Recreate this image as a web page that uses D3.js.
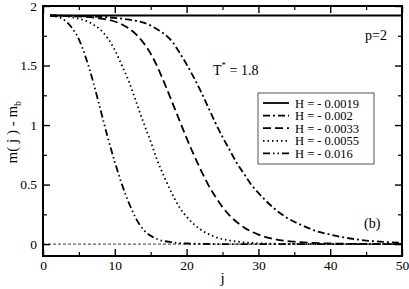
<!DOCTYPE html>
<html>
<head>
<meta charset="utf-8">
<script src="https://cdn.jsdelivr.net/npm/d3@7"></script>
<style>
body { margin: 0; background: #fff; }
svg text { font-family: "Liberation Serif", "Times New Roman", Times, serif; fill: #000; }
</style>
</head>
<body>
<div id="chart"></div>
<script>
const seriesLabels = ["H = - 0.0019", "H = - 0.002", "H = - 0.0033", "H = - 0.0055", "H = - 0.016"];
const dashes = [null, "7,3,2,3", "8,4", "1.5,3", "7,3,1.5,3,1.5,3"];

const jH0019 = [1, 5, 10, 20, 30, 40, 50];
const mH0019 = [1.92, 1.92, 1.92, 1.92, 1.92, 1.92, 1.92];

const jH002 = [1, 5, 10, 12, 14, 15, 16, 17, 18, 19, 20, 21, 22, 23, 24, 25, 26, 27, 28, 29, 30, 32, 34, 36, 38, 40, 42, 45, 48, 50];
const mH002 = [1.92, 1.915, 1.9, 1.885, 1.86, 1.835, 1.8, 1.76, 1.7, 1.61, 1.51, 1.4, 1.28, 1.15, 1.02, 0.9, 0.79, 0.68, 0.59, 0.5, 0.43, 0.31, 0.22, 0.16, 0.11, 0.08, 0.055, 0.03, 0.017, 0.01];

const jH0033 = [1, 4, 8, 10, 11, 12, 13, 14, 15, 16, 17, 18, 19, 20, 21, 22, 23, 24, 25, 26, 28, 30, 32, 35, 40, 45, 50];
const mH0033 = [1.92, 1.915, 1.895, 1.87, 1.845, 1.81, 1.76, 1.69, 1.6, 1.48, 1.34, 1.19, 1.04, 0.89, 0.75, 0.62, 0.5, 0.4, 0.31, 0.24, 0.14, 0.08, 0.045, 0.02, 0.005, 0.001, 0];

const jH0055 = [1, 2, 4, 6, 7, 8, 9, 10, 11, 12, 13, 14, 15, 16, 17, 18, 19, 20, 22, 24, 26, 28, 30, 35, 40, 50];
const mH0055 = [1.92, 1.92, 1.905, 1.875, 1.845, 1.8, 1.73, 1.63, 1.5, 1.36, 1.19, 1.02, 0.86, 0.69, 0.55, 0.42, 0.31, 0.23, 0.12, 0.06, 0.03, 0.015, 0.006, 0.001, 0, 0];

const jH016 = [1, 2, 3, 4, 5, 6, 7, 8, 9, 10, 11, 12, 13, 14, 15, 16, 18, 20, 25, 30, 40, 50];
const mH016 = [1.92, 1.91, 1.88, 1.82, 1.72, 1.56, 1.36, 1.13, 0.9, 0.69, 0.5, 0.34, 0.21, 0.12, 0.07, 0.04, 0.015, 0.005, 0, 0, 0, 0];

const xs = [jH0019, jH002, jH0033, jH0055, jH016];
const ys = [mH0019, mH002, mH0033, mH0055, mH016];

const xTicks = [0, 10, 20, 30, 40, 50];
const yTicks = [0, 0.5, 1, 1.5, 2];
const xMinor = [5, 15, 25, 35, 45];
const yMinor = [0.25, 0.75, 1.25, 1.75];

const width = 409, height = 289;
const margin = { left: 43, right: 7, top: 6, bottom: 33 };
const serif = "Liberation Serif, Times New Roman, serif";

const svg = d3.select("#chart").append("svg")
    .attr("width", width)
    .attr("height", height);

const x = d3.scaleLinear().domain([0, 50]).range([margin.left, width - margin.right]);
const y = d3.scaleLinear().domain([-0.1, 2]).range([height - margin.bottom, margin.top]);

// zero reference line
svg.append("line")
    .attr("x1", x(0)).attr("x2", x(50))
    .attr("y1", y(0)).attr("y2", y(0))
    .attr("stroke", "#000").attr("stroke-width", 0.8)
    .attr("stroke-dasharray", "3,2");

const line = d3.line().x(d => x(d[0])).y(d => y(d[1])).curve(d3.curveMonotoneX);

xs.forEach((xv, i) => {
    const pts = xv.map((v, k) => [v, ys[i][k]]);
    svg.append("path")
        .datum(pts)
        .attr("fill", "none")
        .attr("stroke", "#000")
        .attr("stroke-width", 1.8)
        .attr("stroke-dasharray", dashes[i])
        .attr("d", line);
});

// axes: ticks inward on all four sides
const major = 7, minor = 4;
const axB = d3.axisBottom(x).tickValues(xTicks).tickSize(-major).tickPadding(4).tickFormat(d3.format("d"));
const axT = d3.axisTop(x).tickValues(xTicks).tickSize(-major).tickFormat("");
const axL = d3.axisLeft(y).tickValues(yTicks).tickSize(-major).tickPadding(6).tickFormat(d => d);
const axR = d3.axisRight(y).tickValues(yTicks).tickSize(-major).tickFormat("");

function addAxis(ax, tf, minorAx) {
    const g = svg.append("g").attr("transform", tf);
    g.append("g").call(minorAx).call(s => s.selectAll("text").remove()).call(s => s.select(".domain").remove())
        .selectAll("line").attr("stroke-width", 1.2);
    g.append("g").call(ax).attr("font-family", serif).call(s => s.select(".domain").remove())
        .selectAll("line").attr("stroke-width", 1.4);
    g.selectAll("text").attr("font-size", 13.5);
}
addAxis(axB, `translate(0,${y(-0.1)})`, d3.axisBottom(x).tickValues(xMinor).tickSize(-minor));
addAxis(axT, `translate(0,${y(2)})`, d3.axisTop(x).tickValues(xMinor).tickSize(-minor));
addAxis(axL, `translate(${x(0)},0)`, d3.axisLeft(y).tickValues(yMinor).tickSize(-minor));
addAxis(axR, `translate(${x(50)},0)`, d3.axisRight(y).tickValues(yMinor).tickSize(-minor));

// frame
svg.append("rect")
    .attr("x", x(0)).attr("y", y(2))
    .attr("width", x(50) - x(0)).attr("height", y(-0.1) - y(2))
    .attr("fill", "none").attr("stroke", "#000").attr("stroke-width", 2);

// axis titles
svg.append("text")
    .attr("x", (x(0) + x(50)) / 2).attr("y", 283)
    .attr("text-anchor", "middle").attr("font-size", 15)
    .text("j");

const yl = svg.append("text")
    .attr("transform", `translate(17,${y(0.94)}) rotate(-90)`)
    .attr("text-anchor", "middle").attr("font-size", 15);
yl.append("tspan").text("m( j ) - m");
yl.append("tspan").attr("font-size", 10).attr("dy", 4).text("b");

// annotations
svg.append("text").attr("x", 365).attr("y", 40).attr("font-size", 14).text("p=2");
const tl = svg.append("text").attr("x", 213).attr("y", 75).attr("font-size", 14);
tl.append("tspan").text("T");
tl.append("tspan").attr("font-size", 9).attr("dy", -7).text("*");
tl.append("tspan").attr("dy", 7).text(" = 1.8");
svg.append("text").attr("x", 364).attr("y", 228).attr("font-size", 14).text("(b)");

// legend
const lg = svg.append("g").attr("transform", "translate(258,93)");
lg.append("rect")
    .attr("width", 116).attr("height", 71)
    .attr("fill", "#fff").attr("stroke", "#555").attr("stroke-width", 1);
seriesLabels.forEach((lab, i) => {
    const yy = 10 + i * 12.6;
    lg.append("line")
        .attr("x1", 5).attr("x2", 31).attr("y1", yy).attr("y2", yy)
        .attr("stroke", "#000").attr("stroke-width", 1.8)
        .attr("stroke-dasharray", dashes[i]);
    lg.append("text")
        .attr("x", 37).attr("y", yy + 4.5)
        .attr("font-size", 12.5).text(lab);
});
</script>
</body>
</html>
